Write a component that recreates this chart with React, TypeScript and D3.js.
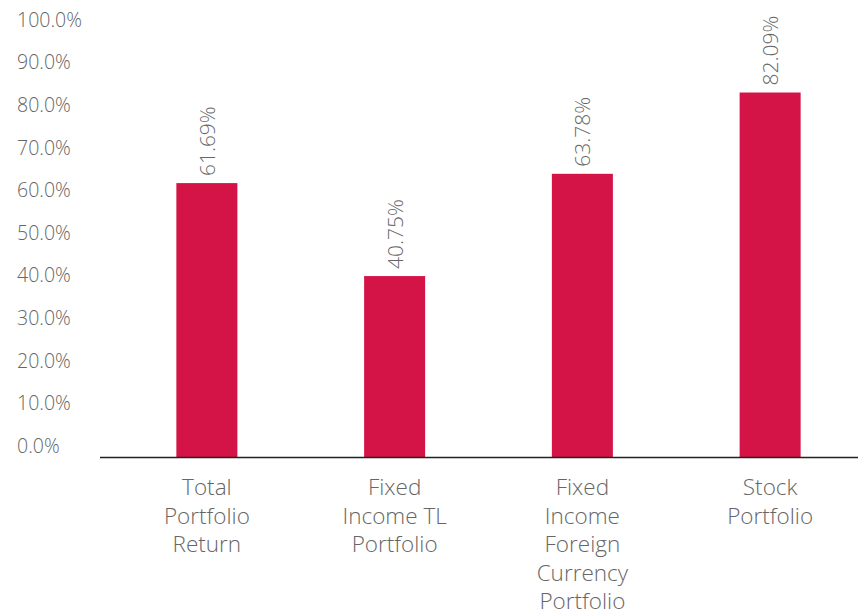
import React, { useEffect, useRef } from 'react';
import * as d3 from 'd3';

const categories = [
  ['Total', 'Portfolio', 'Return'],
  ['Fixed', 'Income TL', 'Portfolio'],
  ['Fixed', 'Income', 'Foreign', 'Currency', 'Portfolio'],
  ['Stock', 'Portfolio'],
];
const values = [61.69, 40.75, 63.78, 82.09];
const tickValues = [0, 10, 20, 30, 40, 50, 60, 70, 80, 90, 100];

const width = 858;
const height = 613;

const App = () => {
  const svgRef = useRef<SVGSVGElement>(null);

  useEffect(() => {
    const svg = d3.select(svgRef.current);
    svg.selectAll('*').remove();

    const font = '"Open Sans", Lato, sans-serif';
    const keys = categories.map((_, i) => String(i));

    const x = d3.scaleBand().domain(keys).range([113, 864]).paddingInner(0.675).paddingOuter(0.3375);
    const y = d3.scaleLinear().domain([0, 100]).range([457, 13]);
    // tick labels sit a bit above their gridline positions in the original
    const yLabel = d3.scaleLinear().domain([0, 100]).range([446, 20]);

    // y tick labels
    svg.append('g')
      .selectAll('text')
      .data(tickValues)
      .enter()
      .append('text')
      .attr('x', 17)
      .attr('y', d => yLabel(d))
      .attr('dy', '0.35em')
      .style('font-family', font)
      .style('font-weight', 300)
      .style('font-size', '19.5px')
      .style('fill', '#666')
      .text(d => d.toFixed(1) + '%');

    // bars
    svg.append('g')
      .selectAll('rect')
      .data(values)
      .enter()
      .append('rect')
      .attr('x', (_, i) => x(keys[i])!)
      .attr('y', d => y(d))
      .attr('width', x.bandwidth())
      .attr('height', d => y(0) - y(d))
      .style('fill', '#D41446');

    // value labels (rotated)
    svg.append('g')
      .selectAll('text')
      .data(values)
      .enter()
      .append('text')
      .attr('transform', (d, i) => `translate(${x(keys[i])! + x.bandwidth() / 2 + 8},${y(d) - 7}) rotate(-90)`)
      .attr('text-anchor', 'start')
      .style('font-family', font)
      .style('font-weight', 300)
      .style('font-size', '21px')
      .style('fill', '#666')
      .text(d => d.toFixed(2) + '%');

    // x axis line
    svg.append('line')
      .attr('x1', 100)
      .attr('x2', 858)
      .attr('y1', y(0) + 0.5)
      .attr('y2', y(0) + 0.5)
      .style('stroke', '#222')
      .style('stroke-width', 1.3);

    // category labels
    const cat = svg.append('g')
      .selectAll('text')
      .data(categories)
      .enter()
      .append('text')
      .attr('x', (_, i) => x(keys[i])! + x.bandwidth() / 2)
      .attr('y', 495)
      .attr('text-anchor', 'middle')
      .style('font-family', font)
      .style('font-weight', 300)
      .style('font-size', '22.5px')
      .style('fill', '#666');

    cat.selectAll('tspan')
      .data(d => d)
      .enter()
      .append('tspan')
      .attr('x', function () { return (this.parentNode as SVGTextElement).getAttribute('x'); })
      .attr('dy', (_, j) => (j === 0 ? 0 : 28.5))
      .text(d => d);
  }, []);

  return (
    <svg
      ref={svgRef}
      width={width}
      height={height}
      style={{ position: 'absolute', left: 0, top: 0, background: '#fff' }}
    />
  );
};

export default App;
